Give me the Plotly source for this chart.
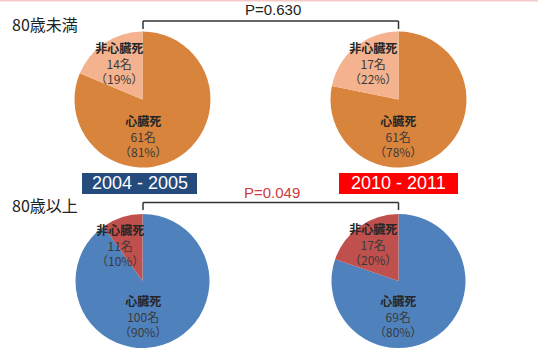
import plotly.graph_objects as go

W, H = 538, 351

# Data
periods = ["2004 - 2005", "2010 - 2011"]
groups = ["80歳未満", "80歳以上"]
categories = ["心臓死", "非心臓死"]
under80_cardiac = [61, 61]
under80_noncardiac = [14, 17]
over80_cardiac = [100, 69]
over80_noncardiac = [11, 17]
p_values = ["P=0.630", "P=0.049"]

orange_colors = ["#D9843C", "#F4B38E"]
blue_colors = ["#4F81BD", "#C0504D"]

def px(x):
    return x / W

def py(y):
    return 1 - y / H

fig = go.Figure()

# pie geometry (pixel centers, radius)
centers_x = [142.5, 398.5]
centers_y = [99.5, 281]
radius = [68, 67]

data_rows = [
    (under80_cardiac, under80_noncardiac, orange_colors),
    (over80_cardiac, over80_noncardiac, blue_colors),
]

for r, (card, noncard, cols) in enumerate(data_rows):
    for c in range(2):
        cx, cy, rad = centers_x[c], centers_y[r], radius[r]
        fig.add_trace(go.Pie(
            labels=categories,
            values=[card[c], noncard[c]],
            sort=False,
            direction="clockwise",
            rotation=0,
            marker=dict(colors=cols, line=dict(width=0)),
            textinfo="none",
            hoverinfo="skip",
            showlegend=False,
            domain=dict(x=[px(cx - rad), px(cx + rad)], y=[py(cy + rad), py(cy - rad)]),
        ))

font_jp = "Noto Sans CJK JP, Liberation Sans, sans-serif"
font_num = "Liberation Sans, Arial, sans-serif"
txt_col = "#3A3A3A"

def ann(x, y, text, size=12, color=txt_col, family=font_jp, xanchor="center"):
    fig.add_annotation(x=px(x), y=py(y), xref="paper", yref="paper", text=text,
                       showarrow=False, font=dict(size=size, color=color, family=family),
                       xanchor=xanchor, yanchor="middle", align="center", borderpad=0)

# slice labels (center of the middle line)
non_pos = [[(119, 62.5), (373, 62.5)], [(120, 244.5), (373, 243.5)]]
card_pos = [[(143, 136), (398, 136)], [(143, 316), (398, 316)]]
for r, (card, noncard, cols) in enumerate(data_rows):
    for c in range(2):
        tot = card[c] + noncard[c]
        for (x, y), name, v in [(non_pos[r][c], categories[1], noncard[c]),
                                (card_pos[r][c], categories[0], card[c])]:
            text = (f"<b><span style='color:#262626'>{name}</span></b><br>"
                    f"{v}名<br>（{round(100 * v / tot)}%）")
            ann(x, y, text, size=12)

# group labels
ann(11, 24, groups[0], size=16, color="#222222", xanchor="left")
ann(11, 205, groups[1], size=16, color="#222222", xanchor="left")

# brackets
for yline, ybot in [(21, 29), (202.5, 210)]:
    fig.add_shape(type="line", xref="paper", yref="paper",
                  x0=px(143), x1=px(398.5), y0=py(yline), y1=py(yline),
                  line=dict(color="#333333", width=1.5))
    for xx in (143, 398.5):
        fig.add_shape(type="line", xref="paper", yref="paper",
                      x0=px(xx), x1=px(xx), y0=py(yline), y1=py(ybot),
                      line=dict(color="#333333", width=1.5))

ann(273, 10, p_values[0], size=15, color="#222222", family=font_num)
ann(272, 192, p_values[1], size=15, color="#D03A3A", family=font_num)

# period boxes
boxes = [(82, 197, "#244B7C"), (339, 458, "#FF0000")]
for (x0, x1, col), label in zip(boxes, periods):
    fig.add_shape(type="rect", xref="paper", yref="paper",
                  x0=px(x0), x1=px(x1), y0=py(194), y1=py(173),
                  fillcolor=col, line=dict(width=0), layer="above")
    ann((x0 + x1) / 2, 183.5, label, size=18, color="white", family=font_num)

# pink top line
fig.add_shape(type="line", xref="paper", yref="paper", x0=0, x1=1, y0=py(0.5), y1=py(0.5),
              line=dict(color="#F6C9C9", width=2))

fig.update_layout(width=W, height=H, margin=dict(l=0, r=0, t=0, b=0),
                  paper_bgcolor="white", plot_bgcolor="white", showlegend=False)

fig.write_html("out.html")
